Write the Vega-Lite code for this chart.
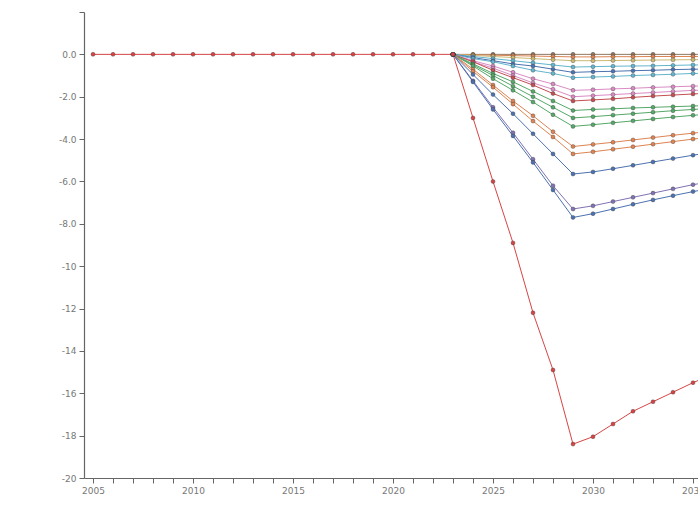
{
  "$schema": "https://vega.github.io/schema/vega-lite/v6.json",
  "autosize": {"type": "none"},
  "width": 614,
  "height": 466,
  "padding": {"left": 84, "top": 12, "right": 0, "bottom": 28},
  "background": "white",
  "config": {"view": {"stroke": null}},
  "data": {"values": [
    {"s":"A","year":2023,"v":0},{"s":"A","year":2024,"v":0},{"s":"A","year":2025,"v":0},{"s":"A","year":2026,"v":0},{"s":"A","year":2027,"v":0},{"s":"A","year":2028,"v":0},{"s":"A","year":2029,"v":0},{"s":"A","year":2030,"v":0},{"s":"A","year":2031,"v":0},{"s":"A","year":2032,"v":0},{"s":"A","year":2033,"v":0},{"s":"A","year":2034,"v":0},{"s":"A","year":2035,"v":0},{"s":"A","year":2036,"v":0},
    {"s":"B","year":2023,"v":0},{"s":"B","year":2024,"v":-0.02},{"s":"B","year":2025,"v":-0.04},{"s":"B","year":2026,"v":-0.06},{"s":"B","year":2027,"v":-0.08},{"s":"B","year":2028,"v":-0.1},{"s":"B","year":2029,"v":-0.12},{"s":"B","year":2030,"v":-0.12},{"s":"B","year":2031,"v":-0.11},{"s":"B","year":2032,"v":-0.11},{"s":"B","year":2033,"v":-0.1},{"s":"B","year":2034,"v":-0.1},{"s":"B","year":2035,"v":-0.1},{"s":"B","year":2036,"v":-0.1},
    {"s":"C","year":2023,"v":0},{"s":"C","year":2024,"v":-0.05},{"s":"C","year":2025,"v":-0.1},{"s":"C","year":2026,"v":-0.15},{"s":"C","year":2027,"v":-0.2},{"s":"C","year":2028,"v":-0.25},{"s":"C","year":2029,"v":-0.3},{"s":"C","year":2030,"v":-0.3},{"s":"C","year":2031,"v":-0.29},{"s":"C","year":2032,"v":-0.28},{"s":"C","year":2033,"v":-0.27},{"s":"C","year":2034,"v":-0.26},{"s":"C","year":2035,"v":-0.25},{"s":"C","year":2036,"v":-0.25},
    {"s":"D","year":2023,"v":0},{"s":"D","year":2024,"v":-0.1},{"s":"D","year":2025,"v":-0.2},{"s":"D","year":2026,"v":-0.3},{"s":"D","year":2027,"v":-0.4},{"s":"D","year":2028,"v":-0.5},{"s":"D","year":2029,"v":-0.6},{"s":"D","year":2030,"v":-0.58},{"s":"D","year":2031,"v":-0.56},{"s":"D","year":2032,"v":-0.55},{"s":"D","year":2033,"v":-0.54},{"s":"D","year":2034,"v":-0.52},{"s":"D","year":2035,"v":-0.5},{"s":"D","year":2036,"v":-0.5},
    {"s":"E","year":2023,"v":0},{"s":"E","year":2024,"v":-0.15},{"s":"E","year":2025,"v":-0.3},{"s":"E","year":2026,"v":-0.45},{"s":"E","year":2027,"v":-0.55},{"s":"E","year":2028,"v":-0.7},{"s":"E","year":2029,"v":-0.85},{"s":"E","year":2030,"v":-0.82},{"s":"E","year":2031,"v":-0.8},{"s":"E","year":2032,"v":-0.77},{"s":"E","year":2033,"v":-0.75},{"s":"E","year":2034,"v":-0.72},{"s":"E","year":2035,"v":-0.7},{"s":"E","year":2036,"v":-0.7},
    {"s":"F","year":2023,"v":0},{"s":"F","year":2024,"v":-0.2},{"s":"F","year":2025,"v":-0.35},{"s":"F","year":2026,"v":-0.55},{"s":"F","year":2027,"v":-0.75},{"s":"F","year":2028,"v":-0.9},{"s":"F","year":2029,"v":-1.1},{"s":"F","year":2030,"v":-1.07},{"s":"F","year":2031,"v":-1.04},{"s":"F","year":2032,"v":-1.0},{"s":"F","year":2033,"v":-0.97},{"s":"F","year":2034,"v":-0.94},{"s":"F","year":2035,"v":-0.9},{"s":"F","year":2036,"v":-0.9},
    {"s":"G","year":2023,"v":0},{"s":"G","year":2024,"v":-0.3},{"s":"G","year":2025,"v":-0.55},{"s":"G","year":2026,"v":-0.85},{"s":"G","year":2027,"v":-1.15},{"s":"G","year":2028,"v":-1.4},{"s":"G","year":2029,"v":-1.7},{"s":"G","year":2030,"v":-1.67},{"s":"G","year":2031,"v":-1.63},{"s":"G","year":2032,"v":-1.6},{"s":"G","year":2033,"v":-1.56},{"s":"G","year":2034,"v":-1.53},{"s":"G","year":2035,"v":-1.5},{"s":"G","year":2036,"v":-1.47},
    {"s":"H","year":2023,"v":0},{"s":"H","year":2024,"v":-0.35},{"s":"H","year":2025,"v":-0.65},{"s":"H","year":2026,"v":-1.0},{"s":"H","year":2027,"v":-1.35},{"s":"H","year":2028,"v":-1.65},{"s":"H","year":2029,"v":-2.0},{"s":"H","year":2030,"v":-1.95},{"s":"H","year":2031,"v":-1.9},{"s":"H","year":2032,"v":-1.85},{"s":"H","year":2033,"v":-1.8},{"s":"H","year":2034,"v":-1.75},{"s":"H","year":2035,"v":-1.7},{"s":"H","year":2036,"v":-1.67},
    {"s":"I","year":2023,"v":0},{"s":"I","year":2024,"v":-0.35},{"s":"I","year":2025,"v":-0.75},{"s":"I","year":2026,"v":-1.1},{"s":"I","year":2027,"v":-1.45},{"s":"I","year":2028,"v":-1.85},{"s":"I","year":2029,"v":-2.2},{"s":"I","year":2030,"v":-2.15},{"s":"I","year":2031,"v":-2.1},{"s":"I","year":2032,"v":-2.03},{"s":"I","year":2033,"v":-1.97},{"s":"I","year":2034,"v":-1.92},{"s":"I","year":2035,"v":-1.87},{"s":"I","year":2036,"v":-1.82},
    {"s":"J","year":2023,"v":0},{"s":"J","year":2024,"v":-0.45},{"s":"J","year":2025,"v":-0.9},{"s":"J","year":2026,"v":-1.3},{"s":"J","year":2027,"v":-1.75},{"s":"J","year":2028,"v":-2.2},{"s":"J","year":2029,"v":-2.65},{"s":"J","year":2030,"v":-2.6},{"s":"J","year":2031,"v":-2.57},{"s":"J","year":2032,"v":-2.53},{"s":"J","year":2033,"v":-2.5},{"s":"J","year":2034,"v":-2.47},{"s":"J","year":2035,"v":-2.44},{"s":"J","year":2036,"v":-2.4},
    {"s":"K","year":2023,"v":0},{"s":"K","year":2024,"v":-0.5},{"s":"K","year":2025,"v":-1.0},{"s":"K","year":2026,"v":-1.5},{"s":"K","year":2027,"v":-2.0},{"s":"K","year":2028,"v":-2.5},{"s":"K","year":2029,"v":-3.0},{"s":"K","year":2030,"v":-2.94},{"s":"K","year":2031,"v":-2.87},{"s":"K","year":2032,"v":-2.8},{"s":"K","year":2033,"v":-2.73},{"s":"K","year":2034,"v":-2.66},{"s":"K","year":2035,"v":-2.6},{"s":"K","year":2036,"v":-2.55},
    {"s":"L","year":2023,"v":0},{"s":"L","year":2024,"v":-0.55},{"s":"L","year":2025,"v":-1.15},{"s":"L","year":2026,"v":-1.7},{"s":"L","year":2027,"v":-2.25},{"s":"L","year":2028,"v":-2.85},{"s":"L","year":2029,"v":-3.4},{"s":"L","year":2030,"v":-3.32},{"s":"L","year":2031,"v":-3.23},{"s":"L","year":2032,"v":-3.14},{"s":"L","year":2033,"v":-3.05},{"s":"L","year":2034,"v":-2.96},{"s":"L","year":2035,"v":-2.88},{"s":"L","year":2036,"v":-2.8},
    {"s":"M","year":2023,"v":0},{"s":"M","year":2024,"v":-0.7},{"s":"M","year":2025,"v":-1.45},{"s":"M","year":2026,"v":-2.2},{"s":"M","year":2027,"v":-2.9},{"s":"M","year":2028,"v":-3.65},{"s":"M","year":2029,"v":-4.35},{"s":"M","year":2030,"v":-4.25},{"s":"M","year":2031,"v":-4.15},{"s":"M","year":2032,"v":-4.04},{"s":"M","year":2033,"v":-3.93},{"s":"M","year":2034,"v":-3.82},{"s":"M","year":2035,"v":-3.72},{"s":"M","year":2036,"v":-3.62},
    {"s":"N","year":2023,"v":0},{"s":"N","year":2024,"v":-0.8},{"s":"N","year":2025,"v":-1.55},{"s":"N","year":2026,"v":-2.35},{"s":"N","year":2027,"v":-3.15},{"s":"N","year":2028,"v":-3.9},{"s":"N","year":2029,"v":-4.7},{"s":"N","year":2030,"v":-4.6},{"s":"N","year":2031,"v":-4.48},{"s":"N","year":2032,"v":-4.36},{"s":"N","year":2033,"v":-4.24},{"s":"N","year":2034,"v":-4.12},{"s":"N","year":2035,"v":-4.0},{"s":"N","year":2036,"v":-3.9},
    {"s":"O","year":2023,"v":0},{"s":"O","year":2024,"v":-0.95},{"s":"O","year":2025,"v":-1.9},{"s":"O","year":2026,"v":-2.8},{"s":"O","year":2027,"v":-3.75},{"s":"O","year":2028,"v":-4.7},{"s":"O","year":2029,"v":-5.65},{"s":"O","year":2030,"v":-5.55},{"s":"O","year":2031,"v":-5.4},{"s":"O","year":2032,"v":-5.24},{"s":"O","year":2033,"v":-5.08},{"s":"O","year":2034,"v":-4.92},{"s":"O","year":2035,"v":-4.76},{"s":"O","year":2036,"v":-4.62},
    {"s":"P","year":2023,"v":0},{"s":"P","year":2024,"v":-1.25},{"s":"P","year":2025,"v":-2.5},{"s":"P","year":2026,"v":-3.7},{"s":"P","year":2027,"v":-4.95},{"s":"P","year":2028,"v":-6.2},{"s":"P","year":2029,"v":-7.3},{"s":"P","year":2030,"v":-7.15},{"s":"P","year":2031,"v":-6.95},{"s":"P","year":2032,"v":-6.75},{"s":"P","year":2033,"v":-6.55},{"s":"P","year":2034,"v":-6.35},{"s":"P","year":2035,"v":-6.15},{"s":"P","year":2036,"v":-6.0},
    {"s":"Q","year":2023,"v":0},{"s":"Q","year":2024,"v":-1.3},{"s":"Q","year":2025,"v":-2.6},{"s":"Q","year":2026,"v":-3.85},{"s":"Q","year":2027,"v":-5.1},{"s":"Q","year":2028,"v":-6.4},{"s":"Q","year":2029,"v":-7.7},{"s":"Q","year":2030,"v":-7.52},{"s":"Q","year":2031,"v":-7.3},{"s":"Q","year":2032,"v":-7.08},{"s":"Q","year":2033,"v":-6.87},{"s":"Q","year":2034,"v":-6.67},{"s":"Q","year":2035,"v":-6.48},{"s":"Q","year":2036,"v":-6.3},
    {"s":"R","year":2005,"v":0},{"s":"R","year":2006,"v":0},{"s":"R","year":2007,"v":0},{"s":"R","year":2008,"v":0},{"s":"R","year":2009,"v":0},{"s":"R","year":2010,"v":0},{"s":"R","year":2011,"v":0},{"s":"R","year":2012,"v":0},{"s":"R","year":2013,"v":0},{"s":"R","year":2014,"v":0},{"s":"R","year":2015,"v":0},{"s":"R","year":2016,"v":0},{"s":"R","year":2017,"v":0},{"s":"R","year":2018,"v":0},{"s":"R","year":2019,"v":0},{"s":"R","year":2020,"v":0},{"s":"R","year":2021,"v":0},{"s":"R","year":2022,"v":0},
    {"s":"R","year":2023,"v":0},{"s":"R","year":2024,"v":-3.0},{"s":"R","year":2025,"v":-6.0},{"s":"R","year":2026,"v":-8.9},{"s":"R","year":2027,"v":-12.2},{"s":"R","year":2028,"v":-14.9},{"s":"R","year":2029,"v":-18.4},{"s":"R","year":2030,"v":-18.05},{"s":"R","year":2031,"v":-17.45},{"s":"R","year":2032,"v":-16.85},{"s":"R","year":2033,"v":-16.4},{"s":"R","year":2034,"v":-15.95},{"s":"R","year":2035,"v":-15.5},{"s":"R","year":2036,"v":-15.1}
  ]},
  "encoding": {
    "x": {"field": "year", "type": "quantitative",
      "scale": {"domain": [2004.55, 2035.25], "nice": false, "zero": false},
      "axis": {"title": null, "grid": false, "values": [2005,2006,2007,2008,2009,2010,2011,2012,2013,2014,2015,2016,2017,2018,2019,2020,2021,2022,2023,2024,2025,2026,2027,2028,2029,2030,2031,2032,2033,2034,2035],
        "labelExpr": "datum.value % 5 == 0 ? '' + datum.value : ''",
        "labelFlush": false, "labelOverlap": false, "labelBound": false,
        "tickSize": 5, "tickColor": "#666", "domainColor": "#666", "domainWidth": 1.2,
        "labelColor": "#777", "labelFontSize": 9, "labelFont": "DejaVu Sans", "labelPadding": 3}},
    "y": {"field": "v", "type": "quantitative",
      "scale": {"domain": [-20, 2], "nice": false, "zero": false},
      "axis": {"title": null, "grid": false, "values": [2,0,-2,-4,-6,-8,-10,-12,-14,-16,-18,-20],
        "labelExpr": "datum.value == 2 ? '' : (abs(datum.value) < 10 ? replace(format(datum.value, '.1f'), '\u2212', '-') : replace(format(datum.value, 'd'), '\u2212', '-'))",
        "tickSize": 5, "tickColor": "#666", "domainColor": "#666", "domainWidth": 1.2,
        "labelColor": "#777", "labelFontSize": 9, "labelFont": "DejaVu Sans", "labelPadding": 3}},
    "color": {"field": "s", "type": "nominal", "legend": null,
      "scale": {"domain": ["A","B","C","D","E","F","G","H","I","J","K","L","M","N","O","P","Q","R"],
        "range": ["#937860","#DD8452","#CCB974","#64B5CD","#4C72B0","#64B5CD","#DA8BC3","#DA8BC3","#C44E52","#55A868","#55A868","#55A868","#DD8452","#DD8452","#4C72B0","#8172B3","#4C72B0","#D64545"]}}
  },
  "layer": [
    {"mark": {"type": "line", "strokeWidth": 1, "clip": true}},
    {"mark": {"type": "point", "filled": true, "size": 16, "opacity": 1, "stroke": "#333", "strokeWidth": 0.6, "strokeOpacity": 0.6, "clip": true}}
  ]
}
